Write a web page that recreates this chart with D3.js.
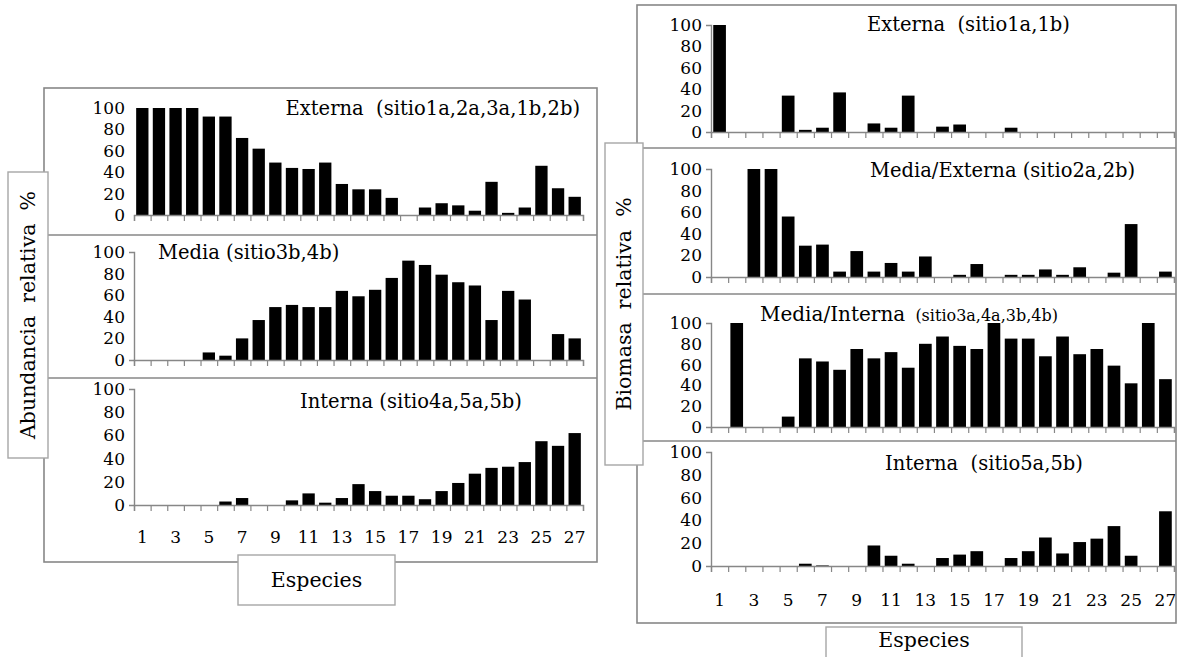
<!DOCTYPE html>
<html><head><meta charset="utf-8">
<script src="https://cdn.jsdelivr.net/npm/d3@7"></script>
<style>
body{margin:0;background:#fff}
svg{display:block}
text{font-family:"DejaVu Serif",serif;fill:#000}
</style></head><body>
<svg id="chart" width="1187" height="657"></svg>
<script>
// ---------- data ----------
const species = [1,2,3,4,5,6,7,8,9,10,11,12,13,14,15,16,17,18,19,20,21,22,23,24,25,26,27];
const xTickLabels = [1,3,5,7,9,11,13,15,17,19,21,23,25,27];
const yTicks = [0,20,40,60,80,100];

const abundExterna = [100,100,100,100,92,92,72,62,49,44,43,49,29,24,24,16,0,7,11,9,4,31,2,7,46,25,17];
const abundMedia   = [0,0,0,0,7,4,20,37,49,51,49,49,64,59,65,76,92,88,79,72,69,37,64,56,0,24,20];
const abundInterna = [0,0,0,0,0,3,6,0,0,4,10,2,6,18,12,8,8,5,12,19,27,32,33,37,55,51,62];

const bioExterna      = [100,0,0,0,34,2,4,37,0,8,4,34,0,5,7,0,0,4,0,0,0,0,0,0,0,0,0];
const bioMediaExterna = [0,0,100,100,56,29,30,5,24,5,13,5,19,0,2,12,0,2,2,7,2,9,0,4,49,0,5];
const bioMediaInterna = [0,100,0,0,10,66,63,55,75,66,72,57,80,87,78,75,100,85,85,68,87,70,75,59,42,100,46];
const bioInterna      = [0,0,0,0,0,2,0.5,0,0,18,9,2,0,7,10,13,0,7,13,25,11,21,24,35,9,0,48];

const panelTitles = {
  abundExterna: "Externa  (sitio1a,2a,3a,1b,2b)",
  abundMedia: "Media (sitio3b,4b)",
  abundInterna: "Interna (sitio4a,5a,5b)",
  bioExterna: "Externa  (sitio1a,1b)",
  bioMediaExterna: "Media/Externa (sitio2a,2b)",
  bioMediaInternaMain: "Media/Interna",
  bioMediaInternaSub: "(sitio3a,4a,3b,4b)",
  bioInterna: "Interna  (sitio5a,5b)"
};
const yTitleLeft = "Abundancia  relativa  %";
const yTitleRight = "Biomasa  relativa  %";
const xTitle = "Especies";

// ---------- layout ----------
const GRAY = "#878787";
const TICK_FS = 17, TITLE_FS = 19.5;
const svg = d3.select("#chart");

const leftChart = {
  box: {x:44, y:88, w:553, h:474},
  seps: [235, 378],
  xRange: [134, 583],
  xLabelY: 537,
  panels: [
    {data: abundExterna, title: panelTitles.abundExterna, y0:215, y100:108, tx:580, ty:108, anchor:"end", yLine:false},
    {data: abundMedia, title: panelTitles.abundMedia, y0:360, y100:252, tx:158, ty:252, anchor:"start", yLine:true},
    {data: abundInterna, title: panelTitles.abundInterna, y0:505, y100:389, tx:300, ty:401, anchor:"start", yLine:true}
  ],
  yTitle: {x:8, y:172, w:40, h:286, text: yTitleLeft, fs:20.5},
  xTitle: {x:238, y:555, w:157, h:50, text: xTitle, fs:20.5, ty:580}
};

const rightChart = {
  box: {x:637, y:5, w:539, h:618},
  seps: [148, 294, 441],
  xRange: [711, 1174],
  xLabelY: 600,
  panels: [
    {data: bioExterna, title: panelTitles.bioExterna, y0:132, y100:25, tx:867, ty:24, anchor:"start", yLine:true},
    {data: bioMediaExterna, title: panelTitles.bioMediaExterna, y0:277, y100:169, tx:870, ty:170, anchor:"start", yLine:true},
    {data: bioMediaInterna, title: panelTitles.bioMediaInternaMain, sub: panelTitles.bioMediaInternaSub, y0:427, y100:323, tx:760, ty:314, anchor:"start", yLine:true},
    {data: bioInterna, title: panelTitles.bioInterna, y0:566, y100:452, tx:885, ty:463, anchor:"start", yLine:true}
  ],
  yTitle: {x:605, y:143, w:38, h:322, text: yTitleRight, fs:20.5},
  xTitle: {x:826, y:627, w:196, h:40, text: xTitle, fs:20.5, ty:640}
};

function styleAxisText(g){
  g.selectAll("text").attr("font-family","DejaVu Serif, serif").attr("font-size",TICK_FS).attr("fill","#000");
}

function drawChart(cfg){
  const g = svg.append("g");
  const b = cfg.box;
  g.append("rect").attr("x",b.x).attr("y",b.y).attr("width",b.w).attr("height",b.h)
    .attr("fill","#fff").attr("stroke",GRAY).attr("stroke-width",1.6);
  cfg.seps.forEach(s => g.append("line").attr("x1",b.x).attr("x2",b.x+b.w).attr("y1",s).attr("y2",s)
    .attr("stroke",GRAY).attr("stroke-width",1.6));

  const x = d3.scaleBand().domain(species).range(cfg.xRange).paddingInner(0.26).paddingOuter(0.13);
  const xb = d3.scaleLinear().domain([0, species.length]).range(cfg.xRange);

  cfg.panels.forEach((p, i) => {
    const y = d3.scaleLinear().domain([0,100]).range([p.y0, p.y100]);
    const pg = g.append("g");
    pg.selectAll("rect.bar").data(species).join("rect").attr("class","bar")
      .attr("x", d => x(d)).attr("width", x.bandwidth())
      .attr("y", (d,j) => y(p.data[j])).attr("height", (d,j) => y(0) - y(p.data[j]))
      .attr("fill","#000");
    const ya = pg.append("g").attr("transform",`translate(${cfg.xRange[0]},0)`)
      .call(d3.axisLeft(y).tickValues(yTicks).tickSizeInner(0).tickSizeOuter(5).tickPadding(9));
    ya.select(".domain").attr("stroke",GRAY).attr("stroke-width",1.4);
    if(!p.yLine) ya.select(".domain").remove();
    styleAxisText(ya);
    const xa = pg.append("g").attr("transform",`translate(0,${p.y0})`)
      .call(d3.axisBottom(xb).tickValues(d3.range(species.length+1)).tickSize(6).tickFormat(""));
    xa.select(".domain").attr("stroke",GRAY).attr("stroke-width",1.4);
    xa.selectAll(".tick line").attr("stroke",GRAY).attr("stroke-width",1.2);
    const t = pg.append("text").attr("x",p.tx).attr("y",p.ty).attr("dy","0.35em")
      .attr("text-anchor",p.anchor).attr("font-size",TITLE_FS).style("white-space","pre");
    t.append("tspan").attr("font-size", p.sub ? 20 : TITLE_FS).text(p.title);
    if(p.sub) t.append("tspan").attr("font-size",16).text("  " + p.sub);
    if(i === cfg.panels.length-1){
      const xl = pg.append("g").attr("transform",`translate(0,${cfg.xLabelY})`)
        .call(d3.axisBottom(x).tickValues(xTickLabels).tickSize(0).tickPadding(0));
      xl.select(".domain").remove();
      styleAxisText(xl);
      xl.selectAll("text").attr("dy","0.35em").attr("y",0);
    }
  });

  const yt = cfg.yTitle;
  g.append("rect").attr("x",yt.x).attr("y",yt.y).attr("width",yt.w).attr("height",yt.h)
    .attr("fill","#fff").attr("stroke","#a6a6a6").attr("stroke-width",1.4);
  g.append("text").attr("transform",`translate(${yt.x+yt.w/2},${yt.y+yt.h/2}) rotate(-90)`)
    .attr("text-anchor","middle").attr("dy","0.35em").attr("font-size",yt.fs)
    .style("white-space","pre").text(yt.text);
  const xt = cfg.xTitle;
  g.append("rect").attr("x",xt.x).attr("y",xt.y).attr("width",xt.w).attr("height",xt.h)
    .attr("fill","#fff").attr("stroke","#a6a6a6").attr("stroke-width",1.4);
  g.append("text").attr("x",xt.x+xt.w/2).attr("y",xt.ty).attr("dy","0.35em")
    .attr("text-anchor","middle").attr("font-size",xt.fs).text(xt.text);
}

drawChart(leftChart);
drawChart(rightChart);
</script>
</body></html>
